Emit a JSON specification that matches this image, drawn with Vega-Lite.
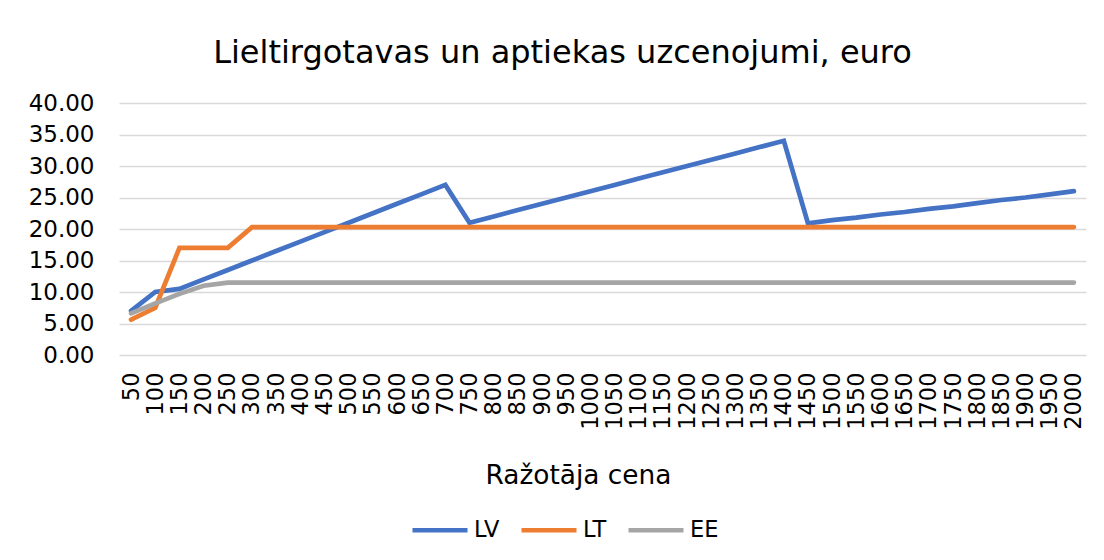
{
  "$schema": "https://vega.github.io/schema/vega-lite/v6.json",
  "autosize": {"type": "none"},
  "width": 967,
  "height": 252,
  "padding": {"left": 119, "top": 103, "right": 18, "bottom": 205},
  "background": "white",
  "title": {
    "text": "Lieltirgotavas un aptiekas uzcenojumi, euro",
    "font": "DejaVu Sans",
    "fontSize": 32,
    "fontWeight": "normal",
    "color": "#000000",
    "anchor": "middle",
    "frame": "group",
    "baseline": "alphabetic",
    "offset": -3,
    "dx": -40
  },
  "data": {
    "values": [
      {"cena": 50, "valsts": "LV", "v": 7.0}, {"cena": 100, "valsts": "LV", "v": 10.0}, {"cena": 150, "valsts": "LV", "v": 10.5}, {"cena": 200, "valsts": "LV", "v": 12.0}, {"cena": 250, "valsts": "LV", "v": 13.5}, {"cena": 300, "valsts": "LV", "v": 15.0}, {"cena": 350, "valsts": "LV", "v": 16.5}, {"cena": 400, "valsts": "LV", "v": 18.0}, {"cena": 450, "valsts": "LV", "v": 19.5}, {"cena": 500, "valsts": "LV", "v": 21.0}, {"cena": 550, "valsts": "LV", "v": 22.5}, {"cena": 600, "valsts": "LV", "v": 24.0}, {"cena": 650, "valsts": "LV", "v": 25.5}, {"cena": 700, "valsts": "LV", "v": 27.0}, {"cena": 750, "valsts": "LV", "v": 21.0}, {"cena": 800, "valsts": "LV", "v": 22.0}, {"cena": 850, "valsts": "LV", "v": 23.0}, {"cena": 900, "valsts": "LV", "v": 24.0}, {"cena": 950, "valsts": "LV", "v": 25.0}, {"cena": 1000, "valsts": "LV", "v": 26.0}, {"cena": 1050, "valsts": "LV", "v": 27.0}, {"cena": 1100, "valsts": "LV", "v": 28.0}, {"cena": 1150, "valsts": "LV", "v": 29.0}, {"cena": 1200, "valsts": "LV", "v": 30.0}, {"cena": 1250, "valsts": "LV", "v": 31.0}, {"cena": 1300, "valsts": "LV", "v": 32.0}, {"cena": 1350, "valsts": "LV", "v": 33.0}, {"cena": 1400, "valsts": "LV", "v": 34.0}, {"cena": 1450, "valsts": "LV", "v": 20.9}, {"cena": 1500, "valsts": "LV", "v": 21.4}, {"cena": 1550, "valsts": "LV", "v": 21.8}, {"cena": 1600, "valsts": "LV", "v": 22.3}, {"cena": 1650, "valsts": "LV", "v": 22.7}, {"cena": 1700, "valsts": "LV", "v": 23.2}, {"cena": 1750, "valsts": "LV", "v": 23.6}, {"cena": 1800, "valsts": "LV", "v": 24.1}, {"cena": 1850, "valsts": "LV", "v": 24.6}, {"cena": 1900, "valsts": "LV", "v": 25.0}, {"cena": 1950, "valsts": "LV", "v": 25.5}, {"cena": 2000, "valsts": "LV", "v": 26.0},
      {"cena": 50, "valsts": "LT", "v": 5.6}, {"cena": 100, "valsts": "LT", "v": 7.5}, {"cena": 150, "valsts": "LT", "v": 17.0}, {"cena": 200, "valsts": "LT", "v": 17.0}, {"cena": 250, "valsts": "LT", "v": 17.0}, {"cena": 300, "valsts": "LT", "v": 20.3}, {"cena": 350, "valsts": "LT", "v": 20.3}, {"cena": 400, "valsts": "LT", "v": 20.3}, {"cena": 450, "valsts": "LT", "v": 20.3}, {"cena": 500, "valsts": "LT", "v": 20.3}, {"cena": 550, "valsts": "LT", "v": 20.3}, {"cena": 600, "valsts": "LT", "v": 20.3}, {"cena": 650, "valsts": "LT", "v": 20.3}, {"cena": 700, "valsts": "LT", "v": 20.3}, {"cena": 750, "valsts": "LT", "v": 20.3}, {"cena": 800, "valsts": "LT", "v": 20.3}, {"cena": 850, "valsts": "LT", "v": 20.3}, {"cena": 900, "valsts": "LT", "v": 20.3}, {"cena": 950, "valsts": "LT", "v": 20.3}, {"cena": 1000, "valsts": "LT", "v": 20.3}, {"cena": 1050, "valsts": "LT", "v": 20.3}, {"cena": 1100, "valsts": "LT", "v": 20.3}, {"cena": 1150, "valsts": "LT", "v": 20.3}, {"cena": 1200, "valsts": "LT", "v": 20.3}, {"cena": 1250, "valsts": "LT", "v": 20.3}, {"cena": 1300, "valsts": "LT", "v": 20.3}, {"cena": 1350, "valsts": "LT", "v": 20.3}, {"cena": 1400, "valsts": "LT", "v": 20.3}, {"cena": 1450, "valsts": "LT", "v": 20.3}, {"cena": 1500, "valsts": "LT", "v": 20.3}, {"cena": 1550, "valsts": "LT", "v": 20.3}, {"cena": 1600, "valsts": "LT", "v": 20.3}, {"cena": 1650, "valsts": "LT", "v": 20.3}, {"cena": 1700, "valsts": "LT", "v": 20.3}, {"cena": 1750, "valsts": "LT", "v": 20.3}, {"cena": 1800, "valsts": "LT", "v": 20.3}, {"cena": 1850, "valsts": "LT", "v": 20.3}, {"cena": 1900, "valsts": "LT", "v": 20.3}, {"cena": 1950, "valsts": "LT", "v": 20.3}, {"cena": 2000, "valsts": "LT", "v": 20.3},
      {"cena": 50, "valsts": "EE", "v": 6.6}, {"cena": 100, "valsts": "EE", "v": 8.2}, {"cena": 150, "valsts": "EE", "v": 9.7}, {"cena": 200, "valsts": "EE", "v": 11.0}, {"cena": 250, "valsts": "EE", "v": 11.5}, {"cena": 300, "valsts": "EE", "v": 11.5}, {"cena": 350, "valsts": "EE", "v": 11.5}, {"cena": 400, "valsts": "EE", "v": 11.5}, {"cena": 450, "valsts": "EE", "v": 11.5}, {"cena": 500, "valsts": "EE", "v": 11.5}, {"cena": 550, "valsts": "EE", "v": 11.5}, {"cena": 600, "valsts": "EE", "v": 11.5}, {"cena": 650, "valsts": "EE", "v": 11.5}, {"cena": 700, "valsts": "EE", "v": 11.5}, {"cena": 750, "valsts": "EE", "v": 11.5}, {"cena": 800, "valsts": "EE", "v": 11.5}, {"cena": 850, "valsts": "EE", "v": 11.5}, {"cena": 900, "valsts": "EE", "v": 11.5}, {"cena": 950, "valsts": "EE", "v": 11.5}, {"cena": 1000, "valsts": "EE", "v": 11.5}, {"cena": 1050, "valsts": "EE", "v": 11.5}, {"cena": 1100, "valsts": "EE", "v": 11.5}, {"cena": 1150, "valsts": "EE", "v": 11.5}, {"cena": 1200, "valsts": "EE", "v": 11.5}, {"cena": 1250, "valsts": "EE", "v": 11.5}, {"cena": 1300, "valsts": "EE", "v": 11.5}, {"cena": 1350, "valsts": "EE", "v": 11.5}, {"cena": 1400, "valsts": "EE", "v": 11.5}, {"cena": 1450, "valsts": "EE", "v": 11.5}, {"cena": 1500, "valsts": "EE", "v": 11.5}, {"cena": 1550, "valsts": "EE", "v": 11.5}, {"cena": 1600, "valsts": "EE", "v": 11.5}, {"cena": 1650, "valsts": "EE", "v": 11.5}, {"cena": 1700, "valsts": "EE", "v": 11.5}, {"cena": 1750, "valsts": "EE", "v": 11.5}, {"cena": 1800, "valsts": "EE", "v": 11.5}, {"cena": 1850, "valsts": "EE", "v": 11.5}, {"cena": 1900, "valsts": "EE", "v": 11.5}, {"cena": 1950, "valsts": "EE", "v": 11.5}, {"cena": 2000, "valsts": "EE", "v": 11.5}
    ]
  },
  "mark": {"type": "line", "strokeWidth": 4.7, "strokeCap": "round", "strokeJoin": "miter"},
  "encoding": {
    "x": {
      "field": "cena",
      "type": "ordinal",
      "scale": {"type": "point", "padding": 0.5},
      "axis": {
        "title": "Ražotāja cena",
        "titleFont": "DejaVu Sans",
        "titleFontSize": 26.4,
        "titleFontWeight": "normal",
        "titleColor": "#000000",
        "titlePadding": 33,
        "titleX": 459,
        "labelAngle": -90,
        "labelFont": "DejaVu Sans",
        "labelFontSize": 22.5,
        "labelColor": "#000000",
        "labelPadding": 17,
        "labelOverlap": false,
        "ticks": false,
        "domain": false,
        "grid": false
      }
    },
    "y": {
      "field": "v",
      "type": "quantitative",
      "scale": {"domain": [0, 40], "nice": false, "zero": true},
      "axis": {
        "title": null,
        "values": [0, 5, 10, 15, 20, 25, 30, 35, 40],
        "format": ".2f",
        "labelFont": "DejaVu Sans",
        "labelFontSize": 23,
        "labelColor": "#000000",
        "labelPadding": 25,
        "ticks": false,
        "domain": false,
        "grid": true,
        "gridColor": "#d9d9d9",
        "gridWidth": 1.3
      }
    },
    "color": {
      "field": "valsts",
      "type": "nominal",
      "sort": ["LV", "LT", "EE"],
      "scale": {"domain": ["LV", "LT", "EE"], "range": ["#4472C4", "#ED7D31", "#A5A5A5"]},
      "legend": {
        "title": null,
        "orient": "none",
        "direction": "horizontal",
        "legendX": 291,
        "legendY": 397,
        "symbolType": "stroke",
        "symbolSize": 3025,
        "symbolStrokeWidth": 4.7,
        "labelFont": "DejaVu Sans",
        "labelFontSize": 22.5,
        "labelColor": "#000000",
        "labelOffset": 4,
        "columnPadding": 12
      }
    }
  },
  "config": {"view": {"stroke": null}}
}
